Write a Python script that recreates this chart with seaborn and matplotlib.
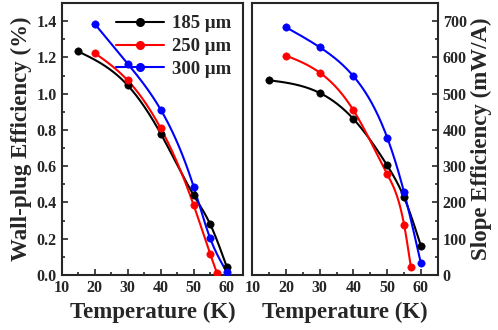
import numpy as np
import pandas as pd
import matplotlib
matplotlib.use("Agg")
import matplotlib.pyplot as plt
from matplotlib.lines import Line2D
from matplotlib.ticker import MultipleLocator
import seaborn as sns

sns.set_style("ticks")
plt.rcParams['font.family'] = ['Liberation Serif', 'DejaVu Serif']
plt.rcParams['font.weight'] = 'bold'

widths = ["185 \u03bcm", "250 \u03bcm", "300 \u03bcm"]
colors = ["black", "red", "blue"]

# wall-plug efficiency (%)
t_185 = [15, 30, 40, 50, 55, 60]
t_250 = [20, 30, 40, 50, 55, 57]
t_300 = [20, 30, 40, 50, 55, 60]
wpe_185 = [1.233, 1.046, 0.78, 0.44, 0.28, 0.046]
wpe_250 = [1.224, 1.073, 0.809, 0.385, 0.116, 0.013]
wpe_300 = [1.385, 1.165, 0.912, 0.486, 0.202, 0.018]

# slope efficiency (mW/A)
se_185 = [537, 502, 430, 302, 214, 80]
se_250 = [605, 558, 454, 278, 139, 23]
se_300 = [683, 628, 548, 379, 228, 32]


def smooth(x, y, n=200):
    # natural cubic spline through the points, only for drawing the line
    x = np.asarray(x, float); y = np.asarray(y, float)
    k = len(x); h = np.diff(x)
    A = np.zeros((k, k)); b = np.zeros(k)
    A[0, 0] = A[-1, -1] = 1
    for i in range(1, k - 1):
        A[i, i - 1] = h[i - 1]; A[i, i] = 2 * (h[i - 1] + h[i]); A[i, i + 1] = h[i]
        b[i] = 6 * ((y[i + 1] - y[i]) / h[i] - (y[i] - y[i - 1]) / h[i - 1])
    M = np.linalg.solve(A, b)
    xs = np.linspace(x[0], x[-1], n)
    j = np.clip(np.searchsorted(x, xs) - 1, 0, k - 2)
    d = xs - x[j]; hj = h[j]
    ys = (M[j] * (x[j + 1] - xs) ** 3 + M[j + 1] * d ** 3) / (6 * hj) \
        + (y[j] / hj - M[j] * hj / 6) * (x[j + 1] - xs) + (y[j + 1] / hj - M[j + 1] * hj / 6) * d
    return xs, ys


def draw(ax, temps, vals):
    for t, v, c, w in zip(temps, vals, colors, widths):
        xs, ys = smooth(t, v)
        sns.lineplot(x=xs, y=ys, ax=ax, color=c, linewidth=1.5, sort=False)
        sns.scatterplot(x=t, y=v, ax=ax, color=c, s=28, edgecolor=c, zorder=5)
    ax.set_xlim(10, 65)
    ax.xaxis.set_major_locator(MultipleLocator(10))
    ax.xaxis.set_minor_locator(MultipleLocator(5))
    ax.tick_params(which='both', direction='in', labelsize=11.5, width=1.2)
    ax.tick_params(which='major', length=4)
    ax.tick_params(which='minor', length=2.5)
    for s in ax.spines.values():
        s.set_linewidth(1.5)
    ax.set_xlabel("Temperature (K)", fontsize=16.5, fontweight='bold', labelpad=4)


fig = plt.figure(figsize=(4.98, 3.30), dpi=100)
ax1 = fig.add_axes([61.7 / 498, 55 / 330, 181.5 / 498, 272 / 330])
ax2 = fig.add_axes([252.3 / 498, 55 / 330, 185.5 / 498, 272 / 330])

draw(ax1, [t_185, t_250, t_300], [wpe_185, wpe_250, wpe_300])
ax1.set_ylim(0, 1.5)
ax1.yaxis.set_major_locator(MultipleLocator(0.2))
ax1.yaxis.set_minor_locator(MultipleLocator(0.1))
ax1.set_ylabel("Wall-plug Efficiency (%)", fontsize=16.5, fontweight='bold', labelpad=3)
ax1.set_xlim(10, 65)

draw(ax2, [t_185, t_250, t_300], [se_185, se_250, se_300])
ax2.set_ylim(0, 750)
ax2.yaxis.set_major_locator(MultipleLocator(100))
ax2.yaxis.set_minor_locator(MultipleLocator(50))
ax2.yaxis.tick_right()
ax2.yaxis.set_label_position("right")
ax2.set_ylabel("Slope Efficiency (mW/A)", fontsize=16.5, fontweight='bold', labelpad=3)
ax2.set_xlim(10, 65)

for a in (ax1, ax2):
    for lab in a.get_xticklabels() + a.get_yticklabels():
        lab.set_fontweight('bold')

handles = [Line2D([0], [0], color=c, lw=1.5, marker='o', markersize=5.5) for c in colors]
ax1.legend(handles, widths, loc='upper right', frameon=False,
           handlelength=2.6, handletextpad=0.4, labelspacing=0.3,
           borderaxespad=0.05, borderpad=0.6, prop={'weight': 'bold', 'size': 13.5})

fig.savefig("out.png", dpi=100)
